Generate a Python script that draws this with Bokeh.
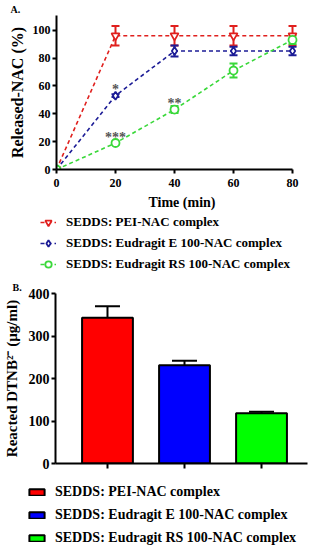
import math
from bokeh.plotting import figure
from bokeh.models import (ColumnDataSource, Whisker, TeeHead, Legend, LegendItem,
                          FixedTicker, Range1d)
from bokeh.layouts import column, row
from bokeh.embed import file_html
from bokeh.resources import INLINE
from bokeh.core.properties import value

# ---------------- data ----------------
time_min = [0, 20, 40, 60, 80]
pei = [0, 96, 96, 96, 96]
pei_err = [0, 7, 7, 7, 7]
eud_e = [0, 53, 85, 85, 85]
eud_e_err = [0, 1, 4, 3, 3]
eud_rs = [0, 19, 43, 71, 93]
eud_rs_err = [0, 1, 2.5, 5, 3]

series_labels = ["SEDDS: PEI-NAC complex",
                 "SEDDS: Eudragit E 100-NAC complex",
                 "SEDDS: Eudragit RS 100-NAC complex"]
line_colors = ["#e0201e", "#1c1c96", "#3ad83a"]
markers = ["inverted_triangle", "diamond", "circle"]

stars_text = ["*", "**", "***"]
stars_x = [20, 40, 20]
stars_y = [53, 43, 19]

x_ticks_a = [0, 20, 40, 60, 80]
y_ticks_a = [0, 20, 40, 60, 80, 100]

dtnb = [343, 231, 118]
dtnb_err = [27, 11, 4]
bar_colors = ["#ff0000", "#0000ff", "#00ff00"]
y_ticks_b = [0, 100, 200, 300, 400]

FONT = "Liberation Serif"
W = 316


def style_axes(p, tick_size, label_size):
    p.outline_line_color = None
    p.xgrid.grid_line_color = None
    p.ygrid.grid_line_color = None
    for ax in (p.xaxis[0], p.yaxis[0]):
        ax.axis_line_width = 2
        ax.axis_line_color = "black"
        ax.major_tick_line_width = 2
        ax.major_tick_out = 4
        ax.major_tick_in = 0
        ax.minor_tick_line_color = None
        ax.major_label_text_font = FONT
        ax.major_label_text_font_style = "bold"
        ax.major_label_text_font_size = tick_size
        ax.major_label_text_color = "black"
        ax.major_label_standoff = 2
        ax.axis_label_text_font = FONT
        ax.axis_label_text_font_style = "bold"
        ax.axis_label_text_font_size = label_size
        ax.axis_label_text_color = "black"
        ax.axis_label_standoff = 4


def style_title(p, txt, offset):
    p.title.text = txt
    p.title.text_font = FONT
    p.title.text_font_style = "bold"
    p.title.text_font_size = "10px"
    p.title.text_color = "black"
    p.title.align = "left"
    p.title.offset = offset
    p.title.standoff = 2


def legend_fig(height):
    f = figure(width=W, height=height, x_range=Range1d(0, 1), y_range=Range1d(0, 1),
               output_backend="svg", toolbar_location=None,
               x_axis_location=None, y_axis_location=None,
               min_border_left=0, min_border_right=0, min_border_top=0,
               min_border_bottom=0)
    f.outline_line_color = None
    f.xgrid.grid_line_color = None
    f.ygrid.grid_line_color = None
    return f


# ---------------- panel A ----------------
pa = figure(width=W, height=212, x_range=Range1d(0, 85.08), y_range=Range1d(0, 110.5),
            output_backend="svg", toolbar_location=None,
            min_border_left=56, min_border_right=9, min_border_top=14,
            min_border_bottom=41)
style_axes(pa, "12px", "16px")
style_title(pa, "A.", -46)
pa.xaxis.bounds = (0, 80)
pa.xaxis.ticker = FixedTicker(ticks=x_ticks_a)
pa.yaxis.ticker = FixedTicker(ticks=y_ticks_a)
pa.xaxis.major_label_standoff = 5
pa.xaxis.axis_label_standoff = 5
pa.xaxis.axis_label_text_font_size = "14px"
pa.xaxis.axis_label = "Time (min)"
pa.yaxis.axis_label = "Released-NAC (%)"

la = legend_fig(66)
items = []
for vals, errs, col, mk, lab in zip([pei, eud_e, eud_rs],
                                    [pei_err, eud_e_err, eud_rs_err],
                                    line_colors, markers, series_labels):
    src = ColumnDataSource(dict(
        x=time_min, y=vals,
        up=[v + e for v, e in zip(vals, errs)],
        lo=[v - e for v, e in zip(vals, errs)]))
    line_kw = dict(line_color=col, line_width=1.6, line_dash="4 3")
    mk_kw = dict(marker=mk, size=8, line_color=col, line_width=1.8, fill_color="white")
    pa.line("x", "y", source=src, **line_kw)
    pa.add_layout(Whisker(source=src, base="x", upper="up", lower="lo", dimension="height",
                          line_color=col, line_width=2,
                          upper_head=TeeHead(size=8, line_color=col, line_width=2),
                          lower_head=TeeHead(size=8, line_color=col, line_width=2)))
    pa.scatter("x", "y", source=src, **mk_kw)
    # legend proxies (no visible data) in the legend strip
    proxy = ColumnDataSource(dict(x=[math.nan], y=[math.nan]))
    ln = la.line("x", "y", source=proxy, **line_kw)
    sc = la.scatter("x", "y", source=proxy, **mk_kw)
    items.append(LegendItem(label=lab, renderers=[ln, sc]))

star_src = ColumnDataSource(dict(x=stars_x, y=stars_y, t=stars_text))
pa.text("x", "y", text="t", source=star_src, text_font=value(FONT),
        text_font_style="bold", text_font_size="14px", text_color="#555555",
        text_align="center", text_baseline="middle", y_offset=-6)

la.add_layout(Legend(items=items, location=(40, 6), orientation="vertical",
                     glyph_width=16, glyph_height=16, label_height=16, spacing=5,
                     label_standoff=10, padding=0, margin=0,
                     border_line_color=None, background_fill_alpha=0,
                     label_text_font=FONT, label_text_font_style="bold",
                     label_text_font_size="13px", label_text_color="black"))

# ---------------- panel B ----------------
pb = figure(width=W, height=192, x_range=Range1d(0.325, 3.597), y_range=Range1d(0, 400),
            output_backend="svg", toolbar_location=None,
            min_border_left=55, min_border_right=9, min_border_top=15,
            min_border_bottom=7)
style_axes(pb, "14px", "15px")
style_title(pb, "B.", -43)
pb.yaxis.ticker = FixedTicker(ticks=y_ticks_b)
pb.yaxis.axis_label_standoff = 6
bar_x = [i + 1 for i in range(len(dtnb))]
pb.xaxis.ticker = FixedTicker(ticks=bar_x)
pb.xaxis.major_tick_out = 5
pb.xaxis.major_label_text_font_size = "0px"
pb.xaxis.major_label_standoff = 0
pb.yaxis.axis_label = "Reacted DTNB\u00b2\u207b (\u00b5g/ml)"

bsrc = ColumnDataSource(dict(
    x=bar_x, top=dtnb, color=bar_colors, label=series_labels,
    up=[v + e for v, e in zip(dtnb, dtnb_err)],
    lo=[v - e for v, e in zip(dtnb, dtnb_err)]))
pb.vbar(x="x", top="top", bottom=0, width=0.66, source=bsrc,
        fill_color="color", line_color="black", line_width=2)
pb.add_layout(Whisker(source=bsrc, base="x", upper="up", lower="lo", dimension="height",
                      line_color="black", line_width=2,
                      upper_head=TeeHead(size=25, line_color="black", line_width=2),
                      lower_head=TeeHead(size=25, line_color="black", line_width=2)))

lb = legend_fig(78)
bitems = []
for col, lab in zip(bar_colors, series_labels):
    proxy = ColumnDataSource(dict(x=[math.nan], top=[math.nan]))
    r = lb.vbar(x="x", top="top", bottom=0, width=0.5, source=proxy,
                fill_color=col, line_color="black", line_width=2)
    bitems.append(LegendItem(label=lab, renderers=[r]))
lb.add_layout(Legend(items=bitems, location=(27, 2), orientation="vertical",
                     glyph_width=19, glyph_height=8, label_height=16, spacing=7,
                     label_standoff=9, padding=0, margin=0,
                     border_line_color=None, background_fill_alpha=0,
                     label_text_font=FONT, label_text_font_style="bold",
                     label_text_font_size="14px", label_text_color="black"))

layout = column(row(pa), row(la), row(pb), row(lb), spacing=0)
open("out.html", "w").write(file_html(layout, INLINE))
